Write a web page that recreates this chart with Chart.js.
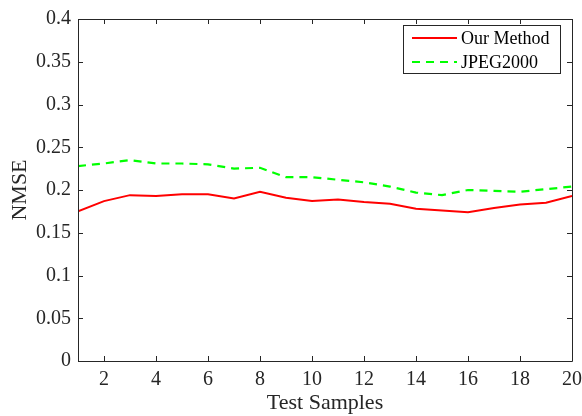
<!DOCTYPE html>
<html>
<head>
<meta charset="utf-8">
<script src="https://cdn.jsdelivr.net/npm/chart.js@4"></script>
<style>
	html, body { margin: 0; padding: 0; background: #fff; }
	#wrap { width: 582px; height: 416px; }
</style>
</head>
<body>
<div id="wrap"><canvas id="chart"></canvas></div>
<script>
let samples = [1, 2, 3, 4, 5, 6, 7, 8, 9, 10, 11, 12, 13, 14, 15, 16, 17, 18, 19, 20];
let ourMethod = [0.175, 0.187, 0.194, 0.193, 0.195, 0.195, 0.190, 0.198, 0.191, 0.187, 0.189, 0.186, 0.184, 0.178, 0.176, 0.174, 0.179, 0.183, 0.185, 0.193];
let jpeg2000 = [0.228, 0.231, 0.235, 0.231, 0.231, 0.230, 0.225, 0.226, 0.215, 0.215, 0.212, 0.209, 0.204, 0.197, 0.194, 0.200, 0.199, 0.198, 0.201, 0.204];
let xTicks = [2, 4, 6, 8, 10, 12, 14, 16, 18, 20];
let yTicks = [0, 0.05, 0.1, 0.15, 0.2, 0.25, 0.3, 0.35, 0.4];

let axisColor = '#262626';
let font = 'Liberation Serif';

// frame, inward ticks and the boxed legend, matlab style
let framePlugin = {
	id: 'frame',
	afterDraw(chart) {
		let ctx = chart.ctx;
		let area = chart.chartArea;
		let x = chart.scales.x, y = chart.scales.y;
		ctx.save();
		ctx.strokeStyle = axisColor;
		ctx.lineWidth = 1;
		ctx.beginPath();
		ctx.rect(Math.round(area.left) + 0.5, Math.round(area.top) + 0.5, Math.round(area.right - area.left), Math.round(area.bottom - area.top));
		ctx.stroke();
		let len = 5;
		ctx.beginPath();
		xTicks.forEach(v => {
			let px = Math.round(x.getPixelForValue(v)) + 0.5;
			ctx.moveTo(px, area.bottom); ctx.lineTo(px, area.bottom - len);
			ctx.moveTo(px, area.top); ctx.lineTo(px, area.top + len);
		});
		yTicks.forEach(v => {
			let py = Math.round(y.getPixelForValue(v)) + 0.5;
			ctx.moveTo(area.left, py); ctx.lineTo(area.left + len, py);
			ctx.moveTo(area.right, py); ctx.lineTo(area.right - len, py);
		});
		ctx.stroke();

		// legend
		let bx = 403.5, by = 25.5, bw = 157, bh = 48;
		ctx.fillStyle = '#fff';
		ctx.fillRect(bx, by, bw, bh);
		ctx.strokeStyle = axisColor;
		ctx.strokeRect(bx, by, bw, bh);
		ctx.font = '18px "' + font + '"';
		ctx.textBaseline = 'middle';
		chart.data.datasets.forEach((ds, i) => {
			let ly = 38 + i * 24;
			ctx.strokeStyle = ds.borderColor;
			ctx.lineWidth = ds.borderWidth;
			ctx.setLineDash(ds.borderDash || []);
			ctx.beginPath();
			ctx.moveTo(412, ly); ctx.lineTo(457, ly);
			ctx.stroke();
			ctx.setLineDash([]);
			ctx.fillStyle = '#000';
			ctx.fillText(ds.label, 461, ly + 1);
		});
		ctx.restore();
	}
};

new Chart(document.querySelector('#chart'), {
	type: 'line',
	data: {
		labels: samples,
		datasets: [
			{
				label: 'Our Method',
				data: samples.map((s, i) => ({x: s, y: ourMethod[i]})),
				borderColor: '#ff0000',
				borderWidth: 2,
				pointRadius: 0,
				tension: 0,
				fill: false
			},
			{
				label: 'JPEG2000',
				data: samples.map((s, i) => ({x: s, y: jpeg2000[i]})),
				borderColor: '#00ff00',
				borderWidth: 2.2,
				borderDash: [8, 6],
				pointRadius: 0,
				tension: 0,
				fill: false
			}
		]
	},
	options: {
		responsive: true,
		maintainAspectRatio: false,
		animation: false,
		layout: { padding: { top: 16, right: 10 } },
		plugins: {
			legend: { display: false },
			tooltip: { enabled: false }
		},
		scales: {
			x: {
				type: 'linear',
				min: 1,
				max: 20,
				afterBuildTicks: scale => { scale.ticks = xTicks.map(v => ({value: v})); },
				afterFit: scale => { scale.height = 55; scale.paddingLeft = 0; scale.paddingRight = 0; },
				grid: { display: false, drawTicks: false },
				border: { display: false },
				ticks: { color: axisColor, font: { family: font, size: 20 }, padding: 7, maxRotation: 0 },
				title: { display: true, text: 'Test Samples', color: axisColor, font: { family: font, size: 22 }, padding: { top: 0, bottom: 0 } }
			},
			y: {
				min: 0,
				max: 0.4,
				afterBuildTicks: scale => { scale.ticks = yTicks.map(v => ({value: v})); },
				afterFit: scale => { scale.width = 78; },
				grid: { display: false, drawTicks: false },
				border: { display: false },
				ticks: { color: axisColor, font: { family: font, size: 20 }, padding: 7, callback: v => String(v) },
				title: { display: true, text: 'NMSE', color: axisColor, font: { family: font, size: 22 }, padding: { top: 7, bottom: 0 } }
			}
		}
	},
	plugins: [framePlugin]
});
</script>
</body>
</html>
